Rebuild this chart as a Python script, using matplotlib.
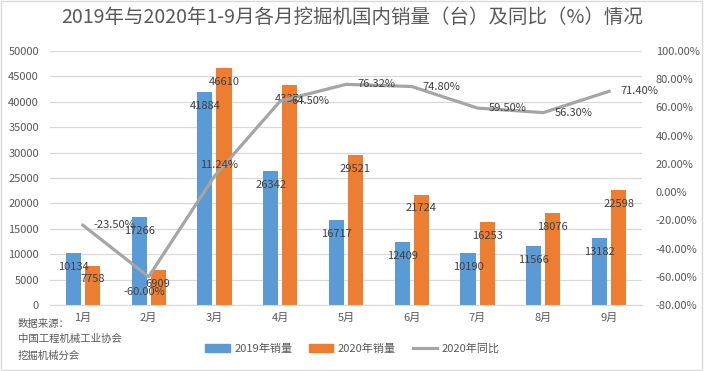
import matplotlib
matplotlib.use("Agg")
import matplotlib.pyplot as plt
from matplotlib.patches import Rectangle, Patch
from matplotlib.lines import Line2D
import numpy as np

plt.rcParams['font.family'] = ['Noto Sans CJK SC', 'DejaVu Sans']

months = ['1月', '2月', '3月', '4月', '5月', '6月', '7月', '8月', '9月']
sales_2019 = [10134, 17266, 41884, 26342, 16717, 12409, 10190, 11566, 13182]
sales_2020 = [7758, 6909, 46610, 43371, 29521, 21724, 16253, 18076, 22598]
yoy_2020 = [-23.50, -60.00, 11.24, 64.50, 76.32, 74.80, 59.50, 56.30, 71.40]

blue = '#5B9BD5'
orange = '#ED7D31'
gray = '#A5A5A5'
txt = '#595959'

fig = plt.figure(figsize=(7.05, 3.71), dpi=100)
ax = fig.add_axes([0.0709, 0.178, 0.8397, 0.6847])
ax2 = ax.twinx()

x = np.arange(len(months))
w = 0.23
off = 0.145
b1 = ax.bar(x - off, sales_2019, w, color=blue, zorder=2)
b2 = ax.bar(x + off, sales_2020, w, color=orange, zorder=2)

ax.set_xlim(-0.5, len(months) - 0.5)
ax.set_ylim(0, 50000)
ax.set_yticks(np.arange(0, 50001, 5000))
ax.grid(axis='y', color='#D9D9D9', linewidth=0.9, zorder=0)
ax.set_axisbelow(True)
for s in ['top', 'left', 'right']:
    ax.spines[s].set_visible(False)
ax.spines['bottom'].set_color('#D9D9D9')
ax.tick_params(axis='both', length=0, labelsize=8, labelcolor=txt)
ax.tick_params(axis='y', pad=8)
ax.tick_params(axis='x', pad=6)
ax.set_xticks(x)
ax.set_xticklabels(months)

ax2.plot(x, yoy_2020, color=gray, linewidth=2.3, zorder=3)
ax2.set_ylim(-80, 100)
ax2.set_yticks(np.arange(-80, 101, 20))
ax2.set_yticklabels(['%.2f%%' % v for v in np.arange(-80, 101, 20)])
for s in ax2.spines.values():
    s.set_visible(False)
ax2.tick_params(axis='y', length=0, labelsize=8, labelcolor=txt, pad=10)

# bar labels (inside end)
for rects, vals in ((b1, sales_2019), (b2, sales_2020)):
    for r, v in zip(rects, vals):
        ax.annotate(str(v), (r.get_x() + r.get_width() / 2, v),
                    xytext=(0, -10), textcoords='offset points',
                    ha='center', va='center', fontsize=8, color='#404040', zorder=5)

# line labels
special = {1: ((-3, -11), 'center'), 2: ((3, 8), 'center')}
for i, v in enumerate(yoy_2020):
    xy_off, ha = special.get(i, ((8, 0), 'left'))
    ax2.annotate('%.2f%%' % v, (i, v), xytext=xy_off, textcoords='offset points',
                 ha=ha, va='center', fontsize=8, color='#404040', zorder=5)

fig.text(0.5, 0.952, '2019年与2020年1-9月各月挖掘机国内销量（台）及同比（%）情况',
         ha='center', va='center', fontsize=14, color=txt)

fig.text(0.025, 0.128, '数据来源：', fontsize=7.5, color=txt, va='center')
fig.text(0.025, 0.085, '中国工程机械工业协会', fontsize=7.5, color=txt, va='center')
fig.text(0.025, 0.042, '挖掘机械分会', fontsize=7.5, color=txt, va='center')

handles = [Patch(color=blue), Patch(color=orange), Line2D([], [], color=gray, linewidth=2.3)]
fig.legend(handles, ['2019年销量', '2020年销量', '2020年同比'], loc='center',
           bbox_to_anchor=(0.5, 0.06), ncol=3, frameon=False, fontsize=8,
           labelcolor=txt, handlelength=2.2, handleheight=0.7, columnspacing=1.5,
           handletextpad=0.4)

fig.patches.append(Rectangle((0.002, 0.003), 0.994, 0.993, transform=fig.transFigure,
                             fill=False, edgecolor='#D9D9D9', linewidth=1))

fig.savefig('out.png', dpi=100)
